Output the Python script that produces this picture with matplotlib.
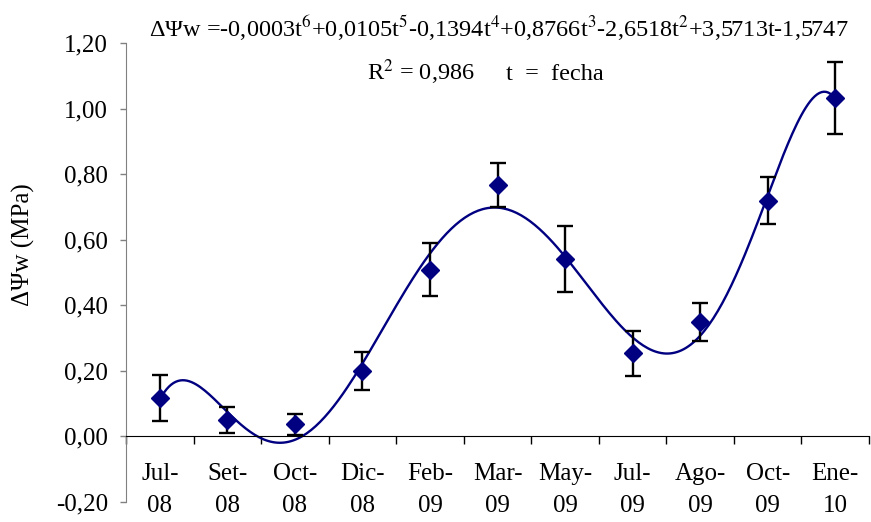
import numpy as np
import matplotlib.pyplot as plt
from matplotlib.ticker import FixedLocator, FuncFormatter

# Data
fechas = ["Jul-\n08", "Set-\n08", "Oct-\n08", "Dic-\n08", "Feb-\n09", "Mar-\n09",
          "May-\n09", "Jul-\n09", "Ago-\n09", "Oct-\n09", "Ene-\n10"]
delta_psi = [0.117, 0.050, 0.037, 0.201, 0.509, 0.767, 0.542, 0.253, 0.350, 0.719, 1.032]
error = [0.070, 0.040, 0.032, 0.058, 0.080, 0.067, 0.100, 0.070, 0.058, 0.071, 0.110]

plt.rcParams["font.family"] = ["Liberation Serif", "DejaVu Serif"]
plt.rcParams["mathtext.fontset"] = "stix"

t = np.arange(1, len(fechas) + 1)

# 6th order polynomial trendline
coef = np.polyfit(t, delta_psi, 6)
t_fit = np.linspace(t[0], t[-1], 300)
y_fit = np.polyval(coef, t_fit)

fig = plt.figure(figsize=(8.71, 5.22), dpi=100)
ax = fig.add_axes([0.1447, 0.0383, 0.853, 0.8793])

ax.plot(t_fit, y_fit, color="#000080", linewidth=1.7, zorder=2)
ax.errorbar(t, delta_psi, yerr=error, fmt="none", ecolor="black",
            elinewidth=1.7, capsize=5.5, capthick=1.7, zorder=3)
ax.plot(t, delta_psi, linestyle="none", marker="D", markersize=9,
        color="#000080", zorder=4)

# Axes
ax.set_xlim(0.5, len(fechas) + 0.5)
ax.set_ylim(-0.2, 1.2)
ax.set_yticks(np.arange(-0.2, 1.21, 0.2))
ax.yaxis.set_major_formatter(FuncFormatter(lambda v, p: f"{v:.2f}".replace(".", ",").replace("-0,00", "0,00")))
ax.tick_params(axis="y", direction="out", length=4, width=1, pad=9, labelsize=18, color="#808080")

ax.spines["top"].set_visible(False)
ax.spines["right"].set_visible(False)
ax.spines["left"].set_color("#808080")
ax.spines["bottom"].set_position(("data", 0))
ax.spines["bottom"].set_color("black")

ax.xaxis.set_major_locator(FixedLocator(np.arange(0.5, len(fechas) + 1, 1)))
ax.xaxis.set_major_formatter(FuncFormatter(lambda v, p: ""))
ax.xaxis.set_minor_locator(FixedLocator(t))
ax.set_xticklabels(fechas, minor=True)
ax.tick_params(axis="x", which="major", direction="out", length=6, width=1)
ax.tick_params(axis="x", which="minor", length=0, pad=19, labelsize=18)
for lbl in ax.get_xticklabels(minor=True):
    lbl.set_linespacing(1.6)

ax.set_ylabel("ΔΨw (MPa)", fontsize=18)
ax.yaxis.set_label_coords(-0.122, 0.56)

# Equation
fig.text(0.573, 0.929,
         r"ΔΨw =-0,0003t$^{6}$+0,0105t$^{5}$-0,1394t$^{4}$+0,8766t$^{3}$-2,6518t$^{2}$+3,5713t-1,5747",
         ha="center", va="baseline", fontsize=17.5)
fig.text(0.483, 0.847, r"R$^{2}$ = 0,986", ha="center", va="baseline", fontsize=17.5)
fig.text(0.637, 0.847, "t  =  fecha", ha="center", va="baseline", fontsize=17.5)

plt.savefig("out.png", dpi=100)
